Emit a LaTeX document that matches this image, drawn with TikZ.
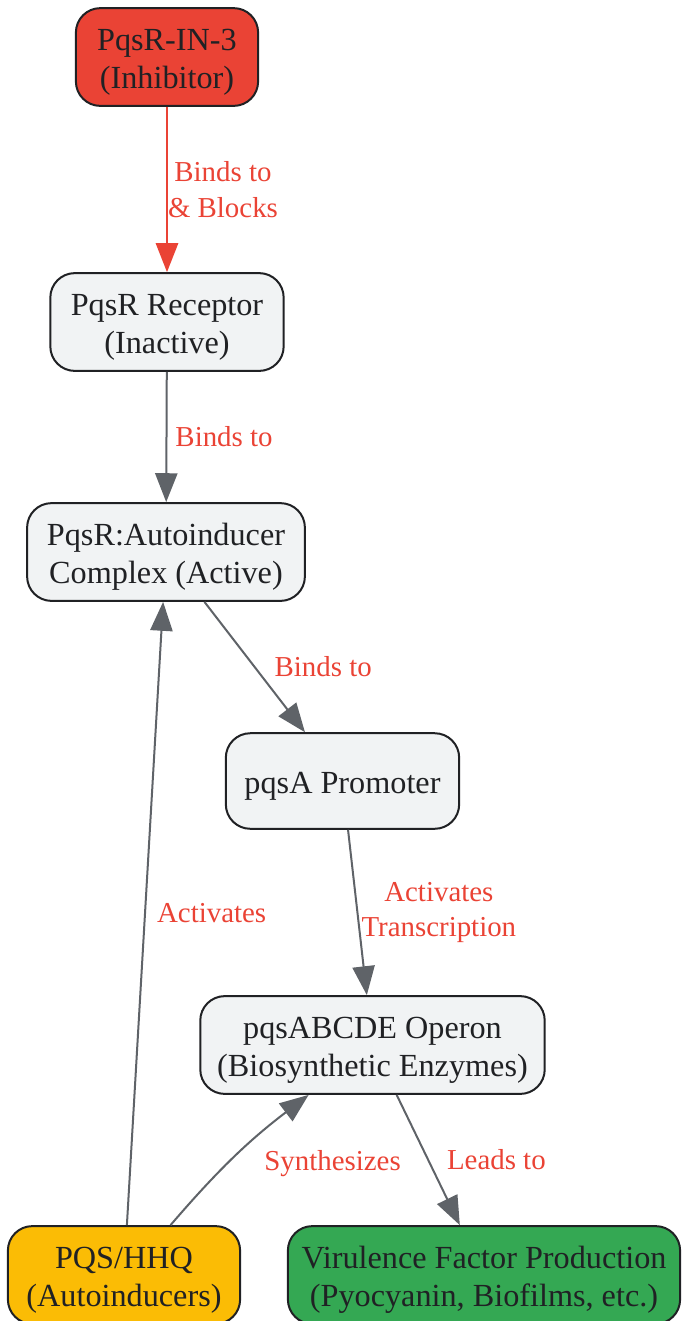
\documentclass[tikz,border=0pt]{standalone}
\usepackage{fontspec}
\setmainfont{Liberation Serif}
\usetikzlibrary{arrows.meta}
\definecolor{inhred}{HTML}{EA4335}
\definecolor{boxgray}{HTML}{F1F3F4}
\definecolor{edgegray}{HTML}{5F6368}
\definecolor{aiyellow}{HTML}{FBBC05}
\definecolor{virgreen}{HTML}{34A853}
\definecolor{inkdark}{HTML}{202124}
% lowers the text a little inside its box
\newcommand{\topstrut}{\rule{0pt}{14.5pt}}

\begin{document}
\begin{tikzpicture}[x=0.45pt, y={(0pt,-0.45pt)},
		box/.style={draw=inkdark, line width=0.9pt, rounded corners=11pt, fill=boxgray,
			text=inkdark, align=center, inner sep=0pt, minimum height=44pt,
			font=\fontsize{14.5}{17}\selectfont},
		gedge/.style={draw=edgegray, line width=0.9pt, -{Triangle[length=13pt, width=10pt]}},
		redge/.style={gedge, draw=inhred},
		lbl/.style={text=inhred, anchor=west, inner sep=0pt, align=center,
			font=\fontsize{13}{16}\selectfont}]
		\useasboundingbox (0,0) rectangle (682,1321);
		\node[box, fill=inhred, minimum width=82pt] (inhib) at (167, 57) {\topstrut PqsR-IN-3\\(Inhibitor)};
		\node[box, minimum width=105pt] (recep) at (167, 322) {\topstrut PqsR Receptor\\(Inactive)};
		\node[box, minimum width=125pt] (cplx) at (166, 552) {\topstrut PqsR:Autoinducer\\Complex (Active)};
		\node[box, minimum width=105pt, minimum height=43pt] (prom) at (342.5, 781) {\topstrut pqsA Promoter};
		\node[box, minimum width=155pt] (operon) at (372.5, 1045) {\topstrut pqsABCDE Operon\\(Biosynthetic Enzymes)};
		\node[box, fill=aiyellow, minimum width=104.5pt] (autoind) at (124, 1275) {\topstrut PQS/HHQ\\(Autoinducers)};
		\node[box, fill=virgreen, minimum width=176.5pt] (virul) at (484, 1275) {\topstrut Virulence Factor Production\\(Pyocyanin, Biofilms, etc.)};
		\draw[redge] (inhib) -- node[lbl, midway, xshift=0pt] {Binds to\\\& Blocks} (recep);
		\draw[gedge] (recep) -- node[lbl, midway, xshift=3.6pt] {Binds to} (cplx);
		\draw[gedge] (cplx) -- node[lbl, midway, xshift=8.5pt] {Binds to} (prom);
		\draw[gedge] (prom) -- node[lbl, midway, xshift=1.4pt] {Activates\\Transcription} (operon);
		\draw[gedge] (autoind) -- node[lbl, midway, xshift=5pt] {Activates} (cplx);
		\draw[gedge] (autoind.47) to[bend left=6] node[lbl, midway, xshift=12.5pt, yshift=-3.5pt] {Synthesizes} (operon.218);
		\draw[gedge] (operon) -- node[lbl, midway, xshift=8pt] {Leads to} (virul);
	\end{tikzpicture}
\end{document}
